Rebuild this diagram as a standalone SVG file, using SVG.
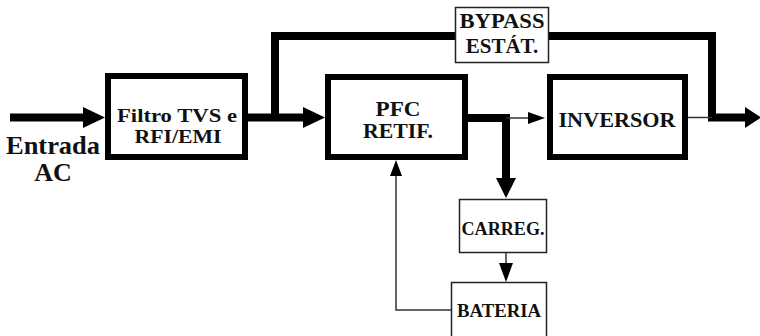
<svg xmlns="http://www.w3.org/2000/svg" width="760" height="336" viewBox="0 0 760 336">
<style>
.bg{fill:#fff}
.thickbox{fill:#fff;stroke:#000;stroke-width:6}
.thinbox{fill:#fff;stroke:#222;stroke-width:1.5}
.thick{fill:none;stroke:#000;stroke-width:8;stroke-linejoin:miter;stroke-linecap:butt}
.thin{fill:none;stroke:#333;stroke-width:1.5}
.head{fill:#000}
text{font-family:'Liberation Serif','Times New Roman',serif;font-weight:700;fill:#111;text-anchor:middle}
</style>
<rect class="bg" x="0" y="0" width="760" height="336"/>
<g id="connectors">
  <line class="thick" x1="10" y1="117.5" x2="86" y2="117.5"/>
  <polygon class="head" points="83,107 105,117.5 83,128"/>
  <line class="thick" x1="248" y1="117.5" x2="306" y2="117.5"/>
  <polygon class="head" points="303,107 325,117.5 303,128"/>
  <polyline class="thick" points="275,117.5 275,36 455,36"/>
  <polyline class="thick" points="549,36 712,36 712,117.5 748,117.5"/>
  <polygon class="head" points="745,107 761,117.5 745,128"/>
  <polyline class="thick" points="468,118 506,118 506,181"/>
  <polygon class="head" points="496,178 506,198 516,178"/>
  <line class="thin" x1="506" y1="118" x2="530" y2="118"/>
  <polygon class="head" points="528,112 545,118 528,124"/>
  <line class="thin" x1="688" y1="117.5" x2="712" y2="117.5"/>
  <line class="thin" x1="506" y1="253" x2="506" y2="265"/>
  <polygon class="head" points="499,263 506,282 513,263"/>
  <polyline class="thin" points="451,310 396,310 396,174"/>
  <polygon class="head" points="390,176 396,160 402,176"/>
</g>
<g id="entrada">
  <text x="53" y="154" font-size="26" textLength="94" lengthAdjust="spacingAndGlyphs">Entrada</text>
  <text x="53" y="181" font-size="26">AC</text>
</g>
<g id="filtro">
  <rect class="thickbox" x="108" y="76" width="137" height="81"/>
  <text x="177" y="122" font-size="19" textLength="120" lengthAdjust="spacingAndGlyphs">Filtro TVS e</text>
  <text x="178" y="143" font-size="19" textLength="87" lengthAdjust="spacingAndGlyphs">RFI/EMI</text>
</g>
<g id="bypass">
  <rect class="thinbox" x="455.5" y="7.5" width="93" height="55"/>
  <text x="502" y="28" font-size="21" textLength="85" lengthAdjust="spacingAndGlyphs">BYPASS</text>
  <text x="502" y="53" font-size="21">ESTÁT.</text>
</g>
<g id="pfc">
  <rect class="thickbox" x="328" y="77" width="137" height="80"/>
  <text x="398" y="116" font-size="20" textLength="45" lengthAdjust="spacingAndGlyphs">PFC</text>
  <text x="398" y="138" font-size="20" textLength="70" lengthAdjust="spacingAndGlyphs">RETIF.</text>
</g>
<g id="inversor">
  <rect class="thickbox" x="550" y="77" width="135" height="80"/>
  <text x="617" y="127" font-size="22" textLength="117" lengthAdjust="spacingAndGlyphs">INVERSOR</text>
</g>
<g id="carreg">
  <rect class="thinbox" x="459.5" y="199.5" width="87" height="53"/>
  <text x="503" y="235" font-size="18" textLength="83" lengthAdjust="spacingAndGlyphs">CARREG.</text>
</g>
<g id="bateria">
  <rect class="thinbox" x="451.5" y="282.5" width="95" height="60"/>
  <text x="499" y="317" font-size="18" textLength="84" lengthAdjust="spacingAndGlyphs">BATERIA</text>
</g>
</svg>
